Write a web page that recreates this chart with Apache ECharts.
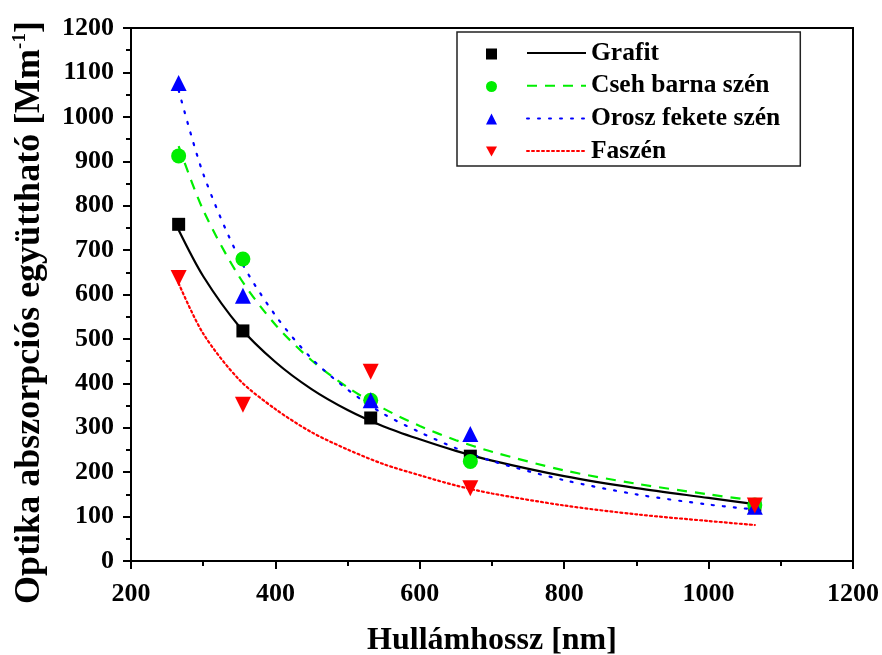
<!DOCTYPE html>
<html>
<head>
<meta charset="utf-8">
<script src="https://cdn.jsdelivr.net/npm/echarts@6/dist/echarts.min.js"></script>
<style>
  html, body { margin: 0; padding: 0; background: #fff; }
  #main { width: 882px; height: 655px; }
</style>
</head>
<body>
<div id="main"></div>
<script>
// measured points (nm -> Mm^-1)
const wavelengths = [266, 355, 532, 670, 1064];
const grafit = [758, 518, 322, 236, 126];
const cseh = [912, 680, 362, 224, 126];
const orosz = [1076, 597, 362, 286, 122];
const faszen = [637, 352, 426, 164, 125];

// fitted curves
const fitX = [266, 300, 350, 400, 450, 500, 550, 600, 650, 700, 800, 900, 1000, 1064];
const grafitFit = [745, 641, 528, 448, 387, 340, 303, 274, 248, 226, 191, 164, 142, 128];
const csehFit = [934, 790, 640, 532, 452, 391, 343, 304, 272, 246, 204, 174, 150, 136];
const oroszFit = [1060, 872, 682, 553, 456, 386, 331, 290, 254, 225, 182, 150, 127, 116];
const faszenFit = [625, 512, 408, 342, 290, 251, 218, 193, 170, 152, 125, 105, 90, 81];

const names = ['Grafit', 'Cseh barna szén', 'Orosz fekete szén', 'Faszén'];
const colors = ['#000000', '#00ee00', '#0000ff', '#ff0000'];
const symbols = ['rect', 'circle', 'triangle', 'triangle'];
const symbolRot = [0, 0, 0, 180];
const legendIcons = ['rect', 'circle', 'triangle', 'path://M0,0 L10,0 L5,9 Z'];
const symbolSizes = [13, 15, 16, 16];
const lineTypes = ['solid', [10, 8], [2, 9], [2, 3]];

const measured = [grafit, cseh, orosz, faszen];
const fits = [grafitFit, csehFit, oroszFit, faszenFit];

const font = 'Liberation Serif, Times New Roman, serif';

const pair = (xs, ys) => xs.map((x, i) => [x, ys[i]]);

const lineSeries = names.map((name, i) => ({
  name: name,
  type: 'line',
  data: pair(fitX, fits[i]),
  smooth: 0.3,
  symbol: 'none',
  lineStyle: { color: colors[i], width: 2.2, type: lineTypes[i], cap: i >= 2 ? 'round' : 'butt' },
  itemStyle: { color: colors[i] },
  z: 2,
}));

const pointSeries = names.map((name, i) => ({
  name: name + ' ',
  type: 'scatter',
  data: pair(wavelengths, measured[i]),
  symbol: symbols[i],
  symbolRotate: symbolRot[i],
  symbolSize: symbolSizes[i],
  itemStyle: { color: colors[i], opacity: 1 },
  z: 3,
}));

const option = {
  animation: false,
  backgroundColor: '#fff',
  grid: {
    left: 131, right: 29, top: 28, bottom: 94,
    outerBoundsMode: 'none',
    show: true, borderColor: '#000', borderWidth: 2,
  },
  legend: [
    {
      data: names.map((n, i) => ({ name: n + ' ', icon: legendIcons[i] })),
      orient: 'vertical',
      left: 486,
      top: 43,
      padding: 0,
      itemWidth: 11,
      itemHeight: 11,
      itemGap: 10.5,
      formatter: () => ' ',
      textStyle: { fontSize: 22, lineHeight: 22 },
      selectedMode: false,
      z: 5,
    },
    {
      data: names,
      orient: 'vertical',
      left: 457,
      top: 32,
      padding: [8, 20, 2, 69],
      itemWidth: 59,
      itemHeight: 14,
      itemGap: 6.7,
      borderColor: '#222',
      borderWidth: 1.5,
      backgroundColor: '#fff',
      selectedMode: false,
      itemStyle: { opacity: 0 },
      textStyle: { fontFamily: font, fontWeight: 'bold', fontSize: 25.5, color: '#000' },
      z: 4,
    },
  ],
  xAxis: {
    type: 'value',
    min: 200,
    max: 1200,
    interval: 200,
    name: 'Hullámhossz [nm]',
    nameLocation: 'middle',
    nameGap: 64,
    nameTextStyle: { fontFamily: font, fontWeight: 'bold', fontSize: 32, color: '#000' },
    axisLine: { lineStyle: { color: '#000', width: 2 } },
    axisTick: { length: 8, lineStyle: { width: 2 } },
    minorTick: { show: true, splitNumber: 2, length: 5, lineStyle: { color: '#000', width: 2 } },
    axisLabel: { fontFamily: font, fontWeight: 'bold', fontSize: 26, color: '#000', margin: 20, formatter: (v) => String(v) },
    splitLine: { show: false },
  },
  yAxis: {
    type: 'value',
    min: 0,
    max: 1200,
    interval: 100,
    name: '{a|Optika abszorpciós együttható [Mm}{s|-1}{a|]}',
    nameLocation: 'middle',
    nameGap: 82,
    nameRotate: 90,
    nameTextStyle: {
      padding: [0, 36, 0, 0],
      rich: {
        a: { fontFamily: font, fontWeight: 'bold', fontSize: 36, color: '#000', lineHeight: 38 },
        s: { fontFamily: font, fontWeight: 'bold', fontSize: 19, color: '#000', verticalAlign: 'top', lineHeight: 38, padding: [0, 0, 16, 0] },
      },
    },
    axisLine: { lineStyle: { color: '#000', width: 2 } },
    axisTick: { length: 8, lineStyle: { width: 2 } },
    minorTick: { show: true, splitNumber: 2, length: 5, lineStyle: { color: '#000', width: 2 } },
    axisLabel: { fontFamily: font, fontWeight: 'bold', fontSize: 26, color: '#000', margin: 17, formatter: (v) => String(v) },
    splitLine: { show: false },
  },
  series: lineSeries.concat(pointSeries),
};

const chart = echarts.init(document.getElementById('main'), null, { renderer: 'canvas' });
chart.setOption(option);
</script>
</body>
</html>
